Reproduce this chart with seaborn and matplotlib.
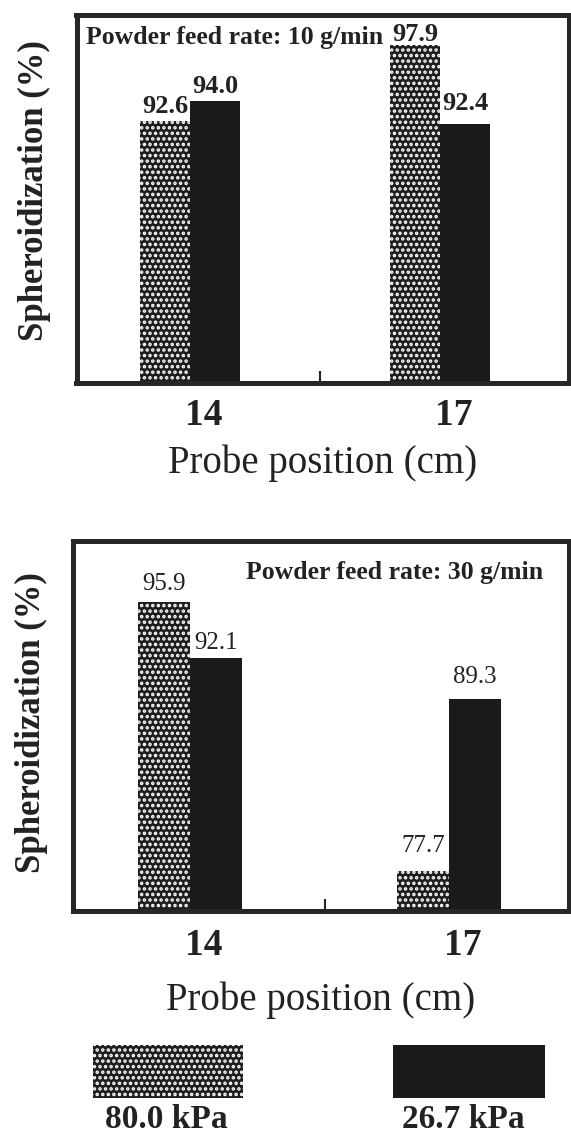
import pandas as pd
import matplotlib.pyplot as plt
import matplotlib.transforms as mtransforms
import seaborn as sns
from matplotlib.patches import Rectangle

# data
positions = ['14', '17']
pressures = ['80.0 kPa', '26.7 kPa']
feed_10 = {'80.0 kPa': [92.6, 97.9], '26.7 kPa': [94.0, 92.4]}
feed_30 = {'80.0 kPa': [95.9, 77.7], '26.7 kPa': [92.1, 89.3]}
panel_notes = ['Powder feed rate: 10 g/min', 'Powder feed rate: 30 g/min']


def to_frame(d):
    rows = []
    for p in pressures:
        for pos, v in zip(positions, d[p]):
            rows.append({'Probe position': pos, 'Pressure': p, 'Spheroidization': v})
    return pd.DataFrame(rows)


sns.set_theme(style='white')
plt.rcParams['font.family'] = ['Liberation Serif', 'DejaVu Serif']
plt.rcParams['hatch.linewidth'] = 1.7

DARK = '#262626'
HATCH_FACE = '#1e1e1e'
SOLID = '#1a1a1a'
HATCH = '...'

fig = plt.figure(figsize=(5.71, 11.41), dpi=100)
W, H = 571, 1141
ax_top = fig.add_axes([76.5 / W, 1 - 383 / H, 492 / W, 368 / H])
ax_bot = fig.add_axes([73 / W, 1 - 911 / H, 496 / W, 370 / H])

panels = [
    # axes, data, ylim, xlim, value label paddings (pt) per hue, label style, tick pad, xlabel pad
    (ax_top, feed_10, (74.3, 100), (-0.454, 1.514), [[2, -1], [2, 6]], 'bold', 19, 11, 8),
    (ax_bot, feed_30, (75, 100), (-0.452, 1.463), [[5, 10], [3, 8]], 'normal', 18, 12.5, 13),
]

label_shift = mtransforms.ScaledTranslation(14 / 100, 0, fig.dpi_scale_trans)

for ax, data, ylim, xlim, pads, vweight, vsize, tpad, xlpad in panels:
    df = to_frame(data)
    sns.barplot(data=df, x='Probe position', y='Spheroidization', hue='Pressure',
                order=positions, hue_order=pressures,
                palette={'80.0 kPa': HATCH_FACE, '26.7 kPa': SOLID},
                width=0.4, gap=0, legend=False, ax=ax, saturation=1)
    for bar in ax.containers[0]:
        bar.set_edgecolor('white')
        bar.set_linewidth(0)
        bar.set_hatch(HATCH)
    for bar in ax.containers[1]:
        bar.set_edgecolor('none')
    for cont, pad_list in zip(ax.containers, pads):
        for bar, pad in zip(cont, pad_list):
            h = bar.get_height()
            ax.annotate(f'{h:.1f}', (bar.get_x() + bar.get_width() / 2, h),
                        xytext=(0, pad), textcoords='offset points',
                        ha='center', va='bottom', fontsize=vsize,
                        fontweight=vweight, color='#222')
    ax.set_ylim(*ylim)
    ax.set_xlim(*xlim)
    ax.set_yticks([])
    ax.tick_params(axis='x', length=0, pad=tpad, labelsize=27, labelcolor='#222')
    for lab in ax.get_xticklabels():
        lab.set_fontweight('bold')
        lab.set_transform(lab.get_transform() + label_shift)
    ax.set_xticks([0.52], minor=True)
    ax.tick_params(axis='x', which='minor', bottom=True, direction='in',
                   length=9, width=1.5, color='#222')
    for s in ax.spines.values():
        s.set_visible(True)
        s.set_linewidth(3.6)
        s.set_color(DARK)
    ax.set_xlabel('Probe position (cm)', fontsize=28, color='#222', labelpad=xlpad)
    ax.set_ylabel('Spheroidization (%)', fontsize=25, fontweight='bold', color='#222')

ax_top.yaxis.set_label_coords(-0.052, 0.524)
ax_bot.yaxis.set_label_coords(-0.05, 0.508)

ax_top.text(0.019, 0.94, panel_notes[0], transform=ax_top.transAxes, fontsize=18.5,
            fontweight='bold', ha='left', va='center', color='#222')
ax_bot.text(0.948, 0.916, panel_notes[1], transform=ax_bot.transAxes, fontsize=18.5,
            fontweight='bold', ha='right', va='center', color='#222')

# legend below the panels
lg = fig.add_axes([0, 0, 1, 100 / H])
lg.set_xlim(0, W)
lg.set_ylim(H, H - 100)
lg.axis('off')
lg.add_patch(Rectangle((93, 1045), 150, 53, facecolor=HATCH_FACE, edgecolor='white',
                       linewidth=0, hatch=HATCH))
lg.add_patch(Rectangle((393, 1045), 152, 53, facecolor=SOLID, edgecolor='none'))
lg.text(166, 1120, pressures[0], ha='center', va='center', fontsize=24, fontweight='bold', color='#222')
lg.text(463, 1120, pressures[1], ha='center', va='center', fontsize=24, fontweight='bold', color='#222')

fig.savefig('out.png', dpi=100)
